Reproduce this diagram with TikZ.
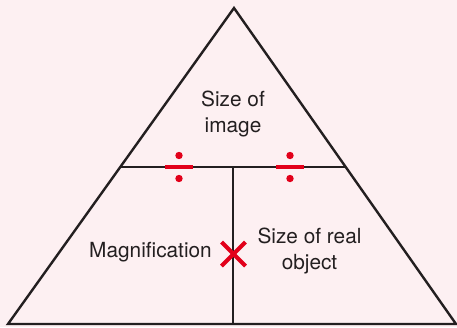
\documentclass[tikz,border=0pt]{standalone}
\usepackage{fontspec}
\setmainfont{TeX Gyre Heros}
\usetikzlibrary{positioning, calc}
\definecolor{pagebg}{RGB}{253, 240, 242}
\definecolor{inkdark}{RGB}{35, 31, 32}
\definecolor{signred}{RGB}{226, 0, 26}

\begin{document}
\begin{tikzpicture}[
    x=1pt, y=-1pt,
    outline/.style={draw=inkdark, line width=2.4pt,
                    line join=miter},
    divider/.style={draw=inkdark, line width=1.1pt},
    lab/.style={font=\fontsize{20.8}{26}\selectfont,
                text=inkdark, align=center,
                inner sep=0pt},
    divbar/.style={rectangle, fill=signred,
                   minimum width=28pt, minimum height=4.4pt,
                   inner sep=0pt},
    divdot/.style={circle, fill=signred,
                   minimum size=7.4pt, inner sep=0pt},
    timesarr/.style={draw=signred, line width=4.2pt},
]

% -- Page ------------------------------------
\fill[pagebg] (0,0) rectangle (457,327);
\useasboundingbox (0,0) rectangle (457,327);

% -- Triangle corners ------------------------
\coordinate (apex)  at (234, 8);
\coordinate (left)  at (8, 324);
\coordinate (right) at (456, 324);
\coordinate (midl)  at ($(apex)!0.503!(left)$);
\coordinate (midr)  at ($(apex)!0.503!(right)$);
\coordinate (midc)  at ($(midl)!0.5!(midr)$);
\coordinate (basec) at ($(left)!(midc)!(right)$);

% -- Dividing lines --------------------------
\draw[divider] (midl) -- (midr);
\draw[divider] (midc) -- (basec);

% -- Outline ---------------------------------
\draw[outline] (apex) -- (left) -- (right) -- cycle;

% -- Labels ----------------------------------
\node[lab] (img) at (233, 114) {Size of\\image};
\node[lab] (mag) at (150.5, 252.5) {Magnification};
\node[lab] (obj) at (309.5, 250.5) {Size of real\\object};

% -- Division signs --------------------------
\node[divbar] (div1) at (179, 167) {};
\node[divdot, above=5.2pt of div1] (div1t) {};
\node[divdot, below=5.2pt of div1] (div1b) {};
\node[divbar] (div2) at (290, 167) {};
\node[divdot, above=5.2pt of div2] (div2t) {};
\node[divdot, below=5.2pt of div2] (div2b) {};

% -- Times sign ------------------------------
\coordinate (times) at (233.5, 254);
\draw[timesarr] ($(times)+(-12,-12)$)
    -- ($(times)+(12,12)$);
\draw[timesarr] ($(times)+(-12,12)$)
    -- ($(times)+(12,-12)$);

\end{tikzpicture}
\end{document}
